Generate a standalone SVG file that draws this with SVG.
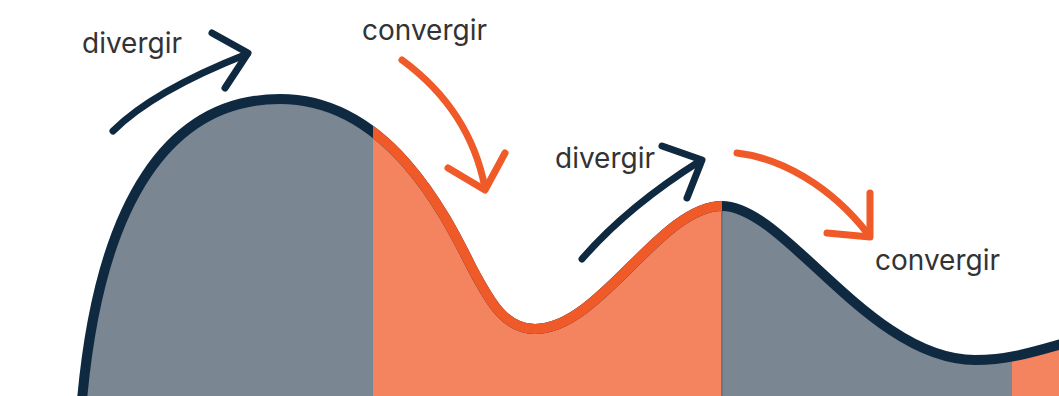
<svg xmlns="http://www.w3.org/2000/svg" width="1059" height="396" viewBox="0 0 1059 396">
<style>
.lbl{font-family:Inter,"Liberation Sans",sans-serif;font-size:28px;fill:#333333}
.dk{fill:none;stroke:#0f2a40;stroke-linecap:round;stroke-linejoin:round}
.or{fill:none;stroke:#f05a28;stroke-linecap:round;stroke-linejoin:round}
.arr{stroke-width:7}
</style>
<defs>
<path id="wave" d="M82 400 C100 200 170 99 280 99 C390 99 448 220 472 268 C490 302 505 329 535 329 C600 329 660 206 722 206 C785 206 870 360 975 360 C1010 360 1040 350 1065 343"/>
<clipPath id="area"><path d="M82 400 C100 200 170 99 280 99 C390 99 448 220 472 268 C490 302 505 329 535 329 C600 329 660 206 722 206 C785 206 870 360 975 360 C1010 360 1040 350 1065 343 L1065 400 Z"/></clipPath>
<clipPath id="orClip"><rect x="373" y="0" width="349" height="400"/></clipPath>
</defs>
<g id="wave-fill" clip-path="url(#area)">
<rect x="0" y="0" width="1059" height="400" fill="#7a8692"/>
<rect x="373" y="0" width="349" height="400" fill="#f4845f"/>
<rect x="1012" y="0" width="60" height="400" fill="#f4845f"/>
<line x1="722" y1="200" x2="722" y2="400" stroke="#6c747e" stroke-width="2"/>
</g>
<g id="wave-line">
<use href="#wave" class="dk" stroke-width="10"/>
<use href="#wave" class="or" stroke-width="10" clip-path="url(#orClip)"/>
</g>
<g id="connectors">
<g id="arrow-diverge-1" class="dk arr"><path d="M113 131 Q153 91 247 54"/><polyline points="212,33 248,53 225,88"/></g>
<g id="arrow-converge-1" class="or arr"><path d="M402 60 Q470 110 485 188"/><polyline points="448,168 485,190 505,153"/></g>
<g id="arrow-diverge-2" class="dk arr"><path d="M582 259 Q627 207 700 161"/><polyline points="662,146 702,160 687,198"/></g>
<g id="arrow-converge-2" class="or arr"><path d="M737 153 C780 158 830 185 868 234"/><polyline points="870,193 870,237 827,233"/></g>
</g>
<g id="labels">
<text class="lbl" x="82" y="53">divergir</text>
<text class="lbl" x="362" y="40">convergir</text>
<text class="lbl" x="555" y="168">divergir</text>
<text class="lbl" x="875" y="270">convergir</text>
</g>
</svg>
